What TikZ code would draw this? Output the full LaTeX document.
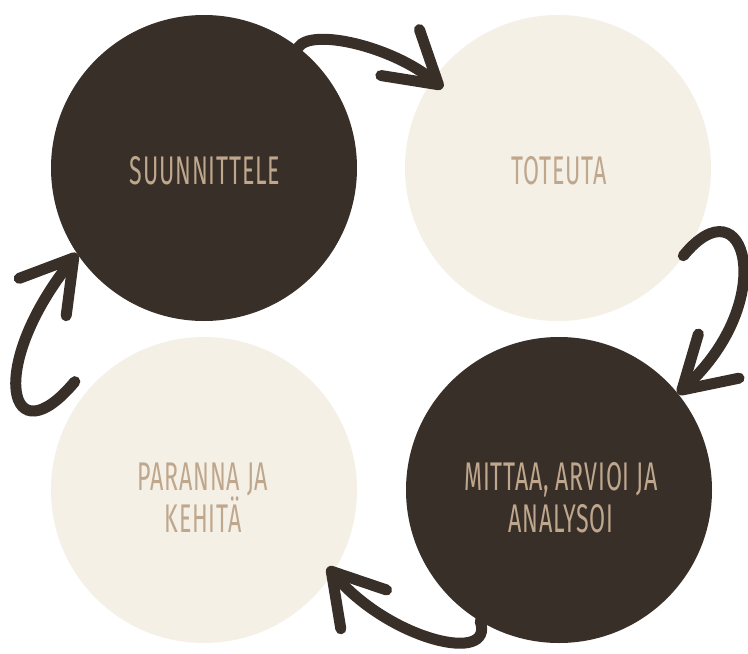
\documentclass[tikz,border=0pt]{standalone}
\usepackage{fontspec}
\setmainfont{Fira Sans}[FakeStretch=0.58, LetterSpace=2]
\usepackage{tikz}
\usetikzlibrary{arrows.meta}
\usepackage{xcolor}
\definecolor{darkbrown}{HTML}{382F28}
\definecolor{cream}{HTML}{F4F0E5}
\definecolor{labeltan}{HTML}{BFA78D}

\begin{document}
\begin{tikzpicture}[x=1pt, y=-1pt,
        phase/.style={shape=circle, minimum size=306pt, inner sep=0pt, outer sep=0pt},
        phasetext/.style={text=labeltan, align=center, font=\fontsize{40}{42}\selectfont},
        brush/.style={draw=darkbrown, line width=11pt, line cap=round,
            -{Straight Barb[length=50pt, width=60pt, round]}}]
        \fill[white] (0,0) rectangle (748,654);
        \useasboundingbox (0,0) rectangle (748,654);

        \node[phase, fill=darkbrown] (A) at (204,168) {};
        \node[phase, fill=cream] (B) at (558,168) {};
        \node[phase, fill=darkbrown] (C) at (559,490) {};
        \node[phase, fill=cream] (D) at (204,490) {};

        \node[phasetext] (A1) at (205,171) {SUUNNITTELE};
        \node[phasetext] (B1) at (559,171) {TOTEUTA};
        \node[phasetext] (C1) at (561,498) {MITTAA, ARVIOI JA\\ANALYSOI};
        \node[phasetext] (D1) at (203,498) {PARANNA JA\\KEHITÄ};

        \draw[brush] (A.52) .. controls +(13,-20) and +(-50,-42) .. ([shift={(10,8)}]B.145);
        \draw[brush] (B.-35) .. controls +(62,-76) and +(102,-94) .. (C.39);
        \draw[brush] (C.239) .. controls +(15,44) and +(62,73) .. ([shift={(-6,-4)}]D.-32);
        \draw[brush] ([shift={(-12,-10)}]D.140) .. controls +(-65,78) and +(-92,116) .. (A.214);
    \end{tikzpicture}
\end{document}
